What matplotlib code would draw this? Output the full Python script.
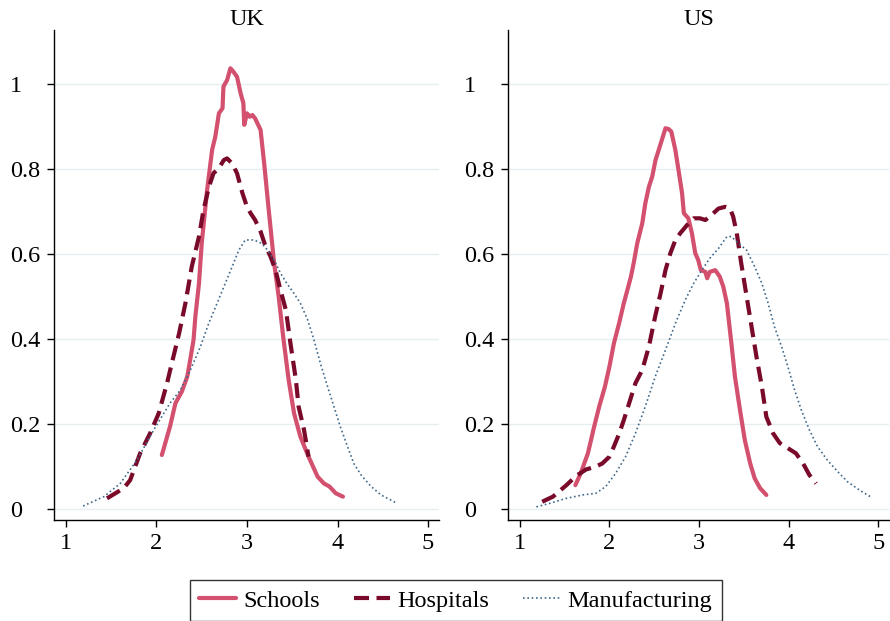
import matplotlib
matplotlib.use('Agg')
import matplotlib.pyplot as plt  # noqa E402

plt.rcParams['font.family'] = ['Liberation Serif', 'DejaVu Serif']

# Kernel density curves
uk_schools_x = [2.06, 2.15, 2.21, 2.28, 2.34, 2.36, 2.41, 2.43, 2.47, 2.50,
                2.56, 2.615, 2.65, 2.69, 2.73, 2.74, 2.78, 2.817, 2.85, 2.89,
                2.93, 2.96, 2.97, 3.00, 3.03, 3.06, 3.09, 3.15, 3.19, 3.24,
                3.30, 3.35, 3.40, 3.46, 3.52, 3.59, 3.68, 3.78, 3.85, 3.91,
                3.98, 4.06]
uk_schools_y = [0.127, 0.194, 0.249, 0.276, 0.311, 0.335, 0.398, 0.453, 0.531,
                0.625, 0.751, 0.845, 0.876, 0.931, 0.943, 0.994, 1.009, 1.037,
                1.029, 1.017, 0.978, 0.955, 0.904, 0.931, 0.923, 0.927, 0.919,
                0.892, 0.813, 0.704, 0.578, 0.500, 0.405, 0.304, 0.225, 0.170,
                0.123, 0.076, 0.060, 0.053, 0.037, 0.029]

uk_hosp_x = [1.454, 1.64, 1.71, 1.82, 1.93, 2.025, 2.117, 2.17, 2.25, 2.32,
             2.39, 2.47, 2.52, 2.58, 2.63, 2.69, 2.744, 2.78, 2.836, 2.89,
             2.95, 3.00, 3.04, 3.09, 3.15, 3.20, 3.26, 3.315, 3.37, 3.43,
             3.48, 3.54, 3.57, 3.63, 3.68]
uk_hosp_y = [0.025, 0.049, 0.068, 0.131, 0.178, 0.225, 0.296, 0.343, 0.413,
             0.484, 0.570, 0.641, 0.704, 0.758, 0.790, 0.802, 0.821, 0.825,
             0.813, 0.790, 0.743, 0.711, 0.696, 0.680, 0.653, 0.621, 0.594,
             0.562, 0.515, 0.468, 0.390, 0.304, 0.241, 0.186, 0.123]

uk_manuf_x = [1.19, 1.42, 1.60, 1.785, 1.97, 2.15, 2.265, 2.375, 2.486, 2.578,
              2.67, 2.76, 2.836, 2.91, 2.98, 3.06, 3.13, 3.20, 3.30, 3.37,
              3.44, 3.52, 3.59, 3.67, 3.74, 3.81, 3.89, 3.96, 4.03, 4.11,
              4.18, 4.26, 4.37, 4.48, 4.66]
uk_manuf_y = [0.007, 0.029, 0.060, 0.115, 0.186, 0.249, 0.280, 0.327, 0.382,
              0.437, 0.484, 0.531, 0.570, 0.609, 0.633, 0.633, 0.629, 0.617,
              0.586, 0.555, 0.531, 0.507, 0.484, 0.445, 0.398, 0.343, 0.288,
              0.241, 0.194, 0.147, 0.107, 0.080, 0.053, 0.033, 0.013]

us_schools_x = [1.62, 1.68, 1.76, 1.83, 1.886, 1.95, 2.00, 2.05, 2.108, 2.16,
                2.20, 2.24, 2.27, 2.31, 2.366, 2.40, 2.44, 2.477, 2.514, 2.55,
                2.59, 2.625, 2.66, 2.69, 2.735, 2.77, 2.81, 2.83, 2.88, 2.92,
                2.957, 2.99, 3.02, 3.07, 3.09, 3.12, 3.18, 3.23, 3.27, 3.31,
                3.36, 3.40, 3.456, 3.51, 3.57, 3.62, 3.68, 3.75]
us_schools_y = [0.056, 0.084, 0.131, 0.194, 0.241, 0.288, 0.335, 0.390, 0.437,
                0.484, 0.515, 0.547, 0.578, 0.625, 0.672, 0.719, 0.758, 0.782,
                0.821, 0.845, 0.872, 0.896, 0.894, 0.888, 0.845, 0.798, 0.743,
                0.696, 0.684, 0.649, 0.602, 0.586, 0.562, 0.558, 0.543, 0.558,
                0.562, 0.547, 0.523, 0.484, 0.390, 0.311, 0.233, 0.162, 0.107,
                0.072, 0.049, 0.033]

us_hosp_x = [1.25, 1.37, 1.52, 1.63, 1.74, 1.85, 1.92, 2.00, 2.05, 2.11, 2.16,
             2.22, 2.29, 2.366, 2.44, 2.51, 2.57, 2.625, 2.68, 2.736, 2.79,
             2.865, 2.94, 3.01, 3.07, 3.14, 3.216, 3.29, 3.345, 3.38, 3.42,
             3.47, 3.53, 3.585, 3.64, 3.70, 3.75, 3.825, 3.90, 3.99, 4.08,
             4.16, 4.23, 4.305]
us_hosp_y = [0.017, 0.029, 0.056, 0.078, 0.093, 0.100, 0.107, 0.123, 0.147,
             0.178, 0.209, 0.249, 0.296, 0.327, 0.382, 0.453, 0.507, 0.562,
             0.602, 0.633, 0.649, 0.668, 0.684, 0.684, 0.680, 0.692, 0.707,
             0.711, 0.707, 0.688, 0.649, 0.578, 0.500, 0.429, 0.358, 0.288,
             0.217, 0.178, 0.155, 0.143, 0.131, 0.107, 0.080, 0.060]

us_manuf_x = [1.185, 1.33, 1.52, 1.70, 1.85, 1.96, 2.07, 2.18, 2.29, 2.40,
              2.51, 2.625, 2.736, 2.846, 2.94, 3.03, 3.12, 3.216, 3.31, 3.36,
              3.44, 3.53, 3.62, 3.70, 3.77, 3.84, 3.92, 3.99, 4.065, 4.14,
              4.23, 4.32, 4.43, 4.545, 4.656, 4.785, 4.91]
us_manuf_y = [0.005, 0.013, 0.025, 0.033, 0.037, 0.053, 0.084, 0.123, 0.178,
              0.241, 0.311, 0.374, 0.437, 0.492, 0.531, 0.562, 0.590, 0.613,
              0.641, 0.641, 0.625, 0.609, 0.570, 0.531, 0.484, 0.429, 0.382,
              0.335, 0.280, 0.233, 0.186, 0.147, 0.115, 0.088, 0.064, 0.045,
              0.029]

panels = ['UK', 'US']
series_labels = ['Schools', 'Hospitals', 'Manufacturing']
xticks = [1, 2, 3, 4, 5]
yticks = [0, 0.2, 0.4, 0.6, 0.8, 1]
ytick_labels = ['0', '0.2', '0.4', '0.6', '0.8', '1']

data = {
    'UK': [(uk_schools_x, uk_schools_y), (uk_hosp_x, uk_hosp_y),
           (uk_manuf_x, uk_manuf_y)],
    'US': [(us_schools_x, us_schools_y), (us_hosp_x, us_hosp_y),
           (us_manuf_x, us_manuf_y)],
}

styles = [
    dict(color='#d3506f', lw=3.0, linestyle='-', solid_capstyle='round'),
    dict(color='#7a0a2a', lw=3.0, linestyle=(0, (3.6, 1.8)),
         dash_capstyle='butt'),
    dict(color='#40698c', lw=1.2, linestyle=(0, (1.0, 1.6))),
]

FS = 17.5
fig = plt.figure(figsize=(8.9, 6.21), dpi=100)
positions = [[0.061, 0.1626, 0.4322, 0.789], [0.5711, 0.1626, 0.428, 0.789]]

handles = []
for pos, name in zip(positions, panels):
    ax = fig.add_axes(pos)
    for yv in yticks:
        ax.axhline(yv, color='#e6eef0', lw=1.0, zorder=0)
    for (xs, ys), st, lab in zip(data[name], styles, series_labels):
        ln, = ax.plot(xs, ys, label=lab, **st)
        if name == 'UK':
            handles.append(ln)
    ax.set_xlim(0.872, 5.12)
    ax.set_ylim(-0.026, 1.127)
    ax.set_xticks(xticks)
    ax.set_yticks(yticks)
    ax.set_yticklabels(ytick_labels)
    for lbl in ax.get_yticklabels():
        lbl.set_horizontalalignment('left')
    ax.tick_params(axis='y', direction='out', length=5, width=1, pad=27,
                   labelsize=FS)
    ax.tick_params(axis='x', direction='out', length=5, width=1, pad=4,
                   labelsize=FS)
    for side in ['top', 'right']:
        ax.spines[side].set_visible(False)
    for side in ['left', 'bottom']:
        ax.spines[side].set_linewidth(1.0)
    ax.set_title(name, fontsize=FS, pad=3)

fig.legend(handles=handles, labels=series_labels, loc='upper center',
           bbox_to_anchor=(0.512, 1 - 580 / 621), ncol=3, fontsize=FS,
           frameon=True, fancybox=False, edgecolor='black',
           handlelength=1.5, handletextpad=0.3, columnspacing=1.4,
           borderpad=0.4, borderaxespad=0.0)

fig.savefig('out.png', dpi=100)
plt.close(fig)
